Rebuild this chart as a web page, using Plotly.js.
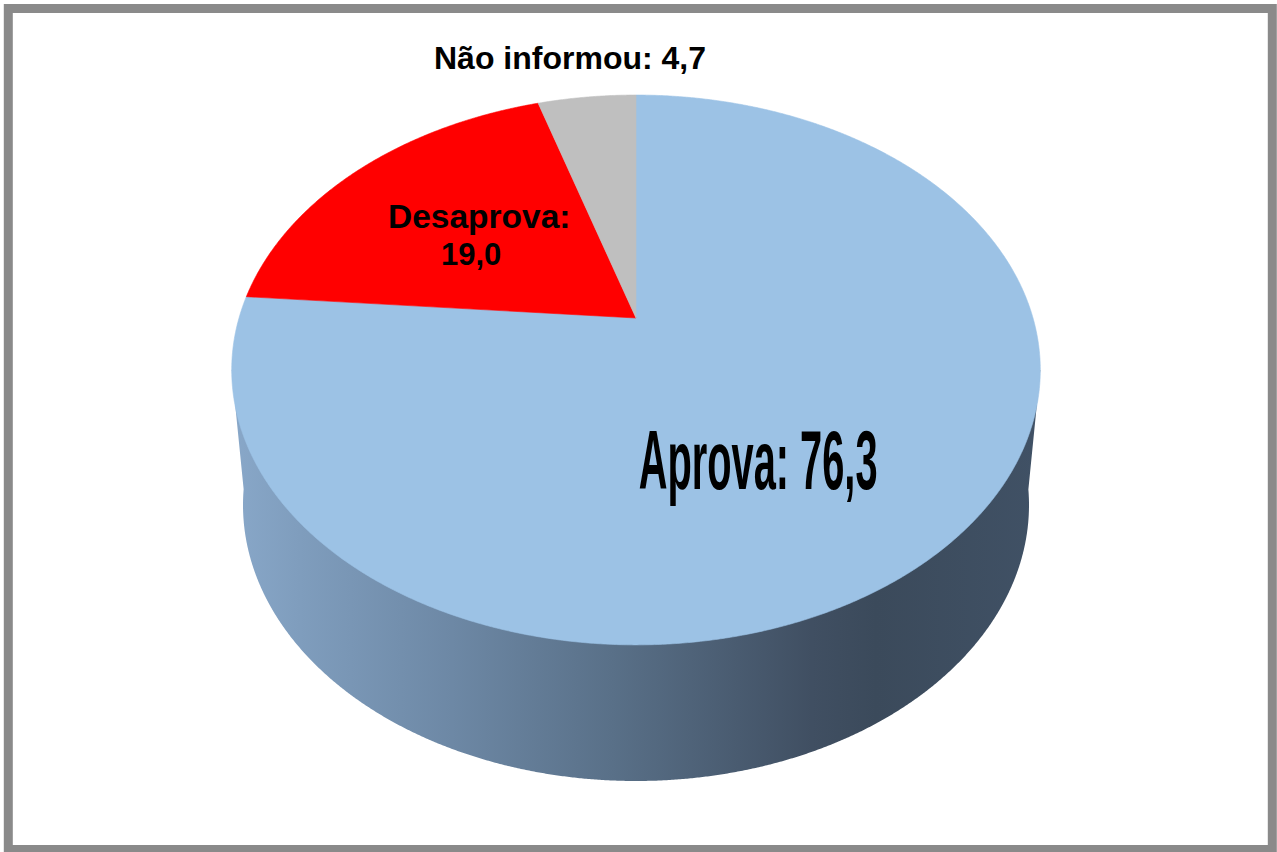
<!DOCTYPE html>
<html>
<head>
<meta charset="utf-8">
<script src="https://cdn.plot.ly/plotly-3.0.1.min.js"></script>
<style>html,body{margin:0;padding:0;background:#fff;overflow:hidden}#chart{width:1277px;height:852px}</style>
</head>
<body>
<div id="chart"></div>
<script>
// Data
const categories = ['Aprova', 'Desaprova', 'Não informou'];
const shares = [76.3, 19.0, 4.7];
const shareLabels = ['76,3', '19,0', '4,7'];
const sliceColors = ['#9cc2e5', '#ff0000', '#bfbfbf'];
const wallStops = [
  [0, '#88a7c8'], [0.08, '#7f9dbd'], [0.27, '#6d88a5'], [0.47, '#597088'],
  [0.72, '#404f62'], [0.8, '#3b4a5b'], [1, '#405165']
];

// Perspective projection of the pie's disc onto the page
const centre = {x: 636, y: 318}, spread = 397, slope = -205, tilt = 0.189;
function project(u, v) {
  const d = 1 + tilt * v;
  return [centre.x + spread * u / d, (slope * v + centre.y) / d];
}
// Disc position for a cumulative share (clockwise from 12 o'clock)
function rim(share) {
  const a = share / 100 * 2 * Math.PI;
  return project(Math.sin(a), Math.cos(a));
}
const total = shares.reduce((a, b) => a + b, 0);

// Base rim of the cylinder, seen below the disc
const base = {cx: 636, cy: 505, rx: 393, ry: 276, overlap: 0.057};
function wallTrace() {
  const xs = [], ys = [];
  // left-most part of the top disc, down round the base, up to the right-most part of the top disc
  const topL = project(-0.982, -0.189), topR = project(0.982, -0.189);
  xs.push(topL[0]); ys.push(topL[1]);
  for (let t = Math.PI + base.overlap; t >= -base.overlap; t -= Math.PI / 720) {
    xs.push(base.cx + base.rx * Math.cos(t));
    ys.push(base.cy + base.ry * Math.sin(t));
  }
  xs.push(topR[0]); ys.push(topR[1]);
  return {
    type: 'scatter', mode: 'lines', x: xs, y: ys, fill: 'toself',
    line: {width: 0, simplify: false}, hoverinfo: 'skip', showlegend: false,
    fillcolor: '#5a7089',
    fillgradient: {type: 'horizontal', start: 236, stop: 1036, colorscale: wallStops}
  };
}

function sliceTrace(i) {
  const from = shares.slice(0, i).reduce((a, b) => a + b, 0);
  const n = Math.max(24, Math.round(shares[i] * 12));
  const xs = [centre.x], ys = [centre.y];
  for (let k = 0; k <= n; k++) {
    const p = rim((from + shares[i] * k / n) * 100 / total);
    xs.push(p[0]); ys.push(p[1]);
  }
  xs.push(centre.x); ys.push(centre.y);
  return {
    type: 'scatter', mode: 'lines', x: xs, y: ys, fill: 'toself',
    fillcolor: sliceColors[i], line: {width: 0.6, color: sliceColors[i], simplify: false},
    name: categories[i], text: categories[i] + ': ' + shareLabels[i],
    hoverinfo: 'text', showlegend: false
  };
}

const traces = [wallTrace()].concat(categories.map((_, i) => sliceTrace(i)));

const font = 'Liberation Sans, Arial, sans-serif';
const note = (text, x, y, size) => ({
  text: text, x: x, y: y, xref: 'x', yref: 'y', showarrow: false,
  xanchor: 'center', yanchor: 'middle', align: 'center',
  font: {family: font, size: size, color: '#000', weight: 700}
});

const layout = {
  width: 1277, height: 852,
  margin: {l: 0, r: 0, t: 0, b: 0},
  paper_bgcolor: '#fff', plot_bgcolor: '#fff',
  xaxis: {range: [0, 1277], visible: false, fixedrange: true},
  yaxis: {range: [852, 0], visible: false, fixedrange: true},
  shapes: [{type: 'rect', xref: 'x', yref: 'y', x0: 8.3, x1: 1272.3, y0: 8.5, y1: 849.5,
            line: {color: '#8a8a8a', width: 9}, fillcolor: 'rgba(0,0,0,0)', layer: 'below'}],
  annotations: [
    note('<b>' + categories[2] + ': ' + shareLabels[2] + '</b>', 570, 57.5, 32),
    note('<b>' + categories[1] + ':</b>', 479, 216, 33.5),
    note('<b>' + shareLabels[1] + '</b>', 471, 254, 31),
    note('<b>' + categories[0] + ': ' + shareLabels[0] + '</b>', 757.5, 460, 84)
  ]
};

Plotly.newPlot('chart', traces, layout, {displayModeBar: false}).then(gd => {
  // The large label is drawn horizontally condensed, as in the original
  const labels = gd.querySelectorAll('.annotation-text');
  const big = labels[labels.length - 1];
  const b = big.getBBox();
  const cx = b.x + b.width / 2;
  big.setAttribute('transform', `translate(${cx} 0) scale(0.474 1) translate(${-cx} 0)`);
});
</script>
</body>
</html>
